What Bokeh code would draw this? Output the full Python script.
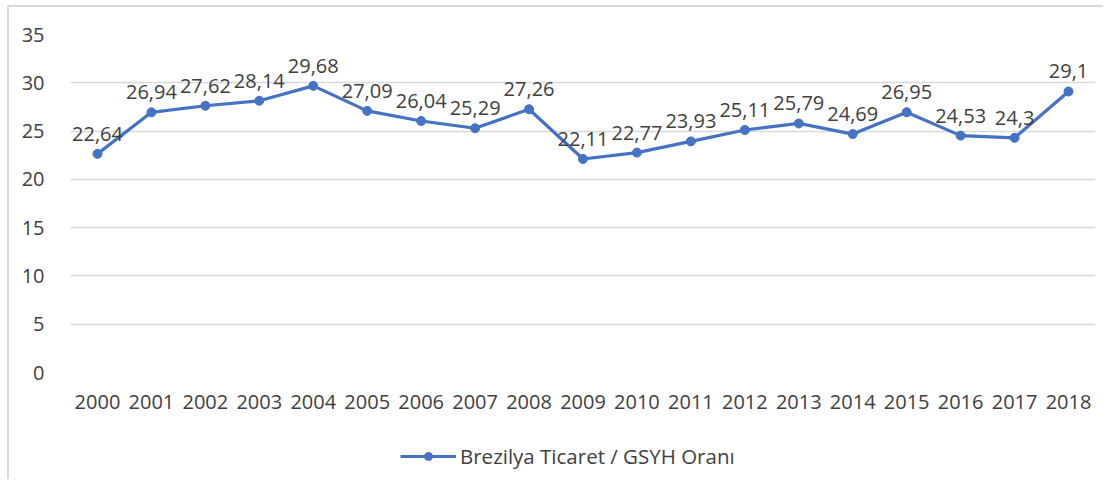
from bokeh.plotting import figure
from bokeh.layouts import column
from bokeh.models import ColumnDataSource, FactorRange, Legend, LegendItem, FixedTicker
from bokeh.core.properties import value
from bokeh.embed import file_html
from bokeh.resources import INLINE

years = [str(y) for y in range(2000, 2019)]
ratio = [22.64, 26.94, 27.62, 28.14, 29.68, 27.09, 26.04, 25.29, 27.26, 22.11,
         22.77, 23.93, 25.11, 25.79, 24.69, 26.95, 24.53, 24.3, 29.1]
labels = [("%g" % v).replace(".", ",") for v in ratio]
y_ticks = [0, 5, 10, 15, 20, 25, 30, 35]
series_name = "Brezilya Ticaret / GSYH Oranı"

FONT = "Open Sans"
TXT = "#404040"
BLUE = "#4472C4"

src = ColumnDataSource(dict(x=years, y=ratio, lab=labels))

p = figure(width=1103, height=413, x_range=FactorRange(*years, range_padding=0),
           y_range=(0, 35), output_backend="svg", toolbar_location=None,
           min_border_left=70, min_border_right=8, min_border_top=34,
           min_border_bottom=41)
p.border_fill_color = None
p.background_fill_color = "white"
p.outline_line_color = None
p.xgrid.grid_line_color = None
p.ygrid.grid_line_color = "#d9d9d9"
p.ygrid.grid_line_width = 1.5
p.yaxis.ticker = FixedTicker(ticks=y_ticks)

for ax in (p.xaxis, p.yaxis):
    ax.axis_line_color = None
    ax.major_tick_line_color = None
    ax.minor_tick_line_color = None
    ax.major_label_text_font = FONT
    ax.major_label_text_font_size = "20px"
    ax.major_label_text_color = TXT
p.yaxis.major_label_standoff = 20
p.xaxis.major_label_standoff = 16

p.line("x", "y", source=src, line_color=BLUE, line_width=3.2)
p.scatter("x", "y", source=src, size=9, marker="circle",
          fill_color=BLUE, line_color=BLUE)
p.text("x", "y", text="lab", source=src, text_align="center",
       text_baseline="alphabetic", y_offset=-20, text_font=value(FONT),
       text_font_size="20px", text_color=TXT)

# legend strip below the chart (series drawn outside its visible range)
lg = figure(width=1103, height=66, x_range=FactorRange(*years), y_range=(100, 101),
            output_backend="svg", toolbar_location=None,
            x_axis_type=None, y_axis_type=None,
            min_border=0)
lg.border_fill_color = None
lg.background_fill_color = None
lg.outline_line_color = None
lg.xgrid.grid_line_color = None
lg.ygrid.grid_line_color = None
l1 = lg.line("x", "y", source=src, line_color=BLUE, line_width=3.2)
l2 = lg.scatter("x", "y", source=src, size=9, marker="circle",
                fill_color=BLUE, line_color=BLUE)
legend = Legend(items=[LegendItem(label=series_name, renderers=[l1, l2])],
                location=(330, 9), orientation="horizontal",
                glyph_width=56, glyph_height=20, label_standoff=4,
                label_text_font=FONT, label_text_font_size="20.5px",
                label_text_color=TXT, border_line_color=None,
                background_fill_alpha=0, padding=0, margin=0, spacing=0)
lg.add_layout(legend, "center")

page = column(p, lg, spacing=0)
page.styles = {"background": "linear-gradient(#d9d9d9,#d9d9d9) 7px 5px / 2px calc(100% - 5px) no-repeat, "
                             "linear-gradient(#d9d9d9,#d9d9d9) 7px 5px / calc(100% - 7px) 2px no-repeat, white"}

open("out.html", "w").write(file_html(page, INLINE))
